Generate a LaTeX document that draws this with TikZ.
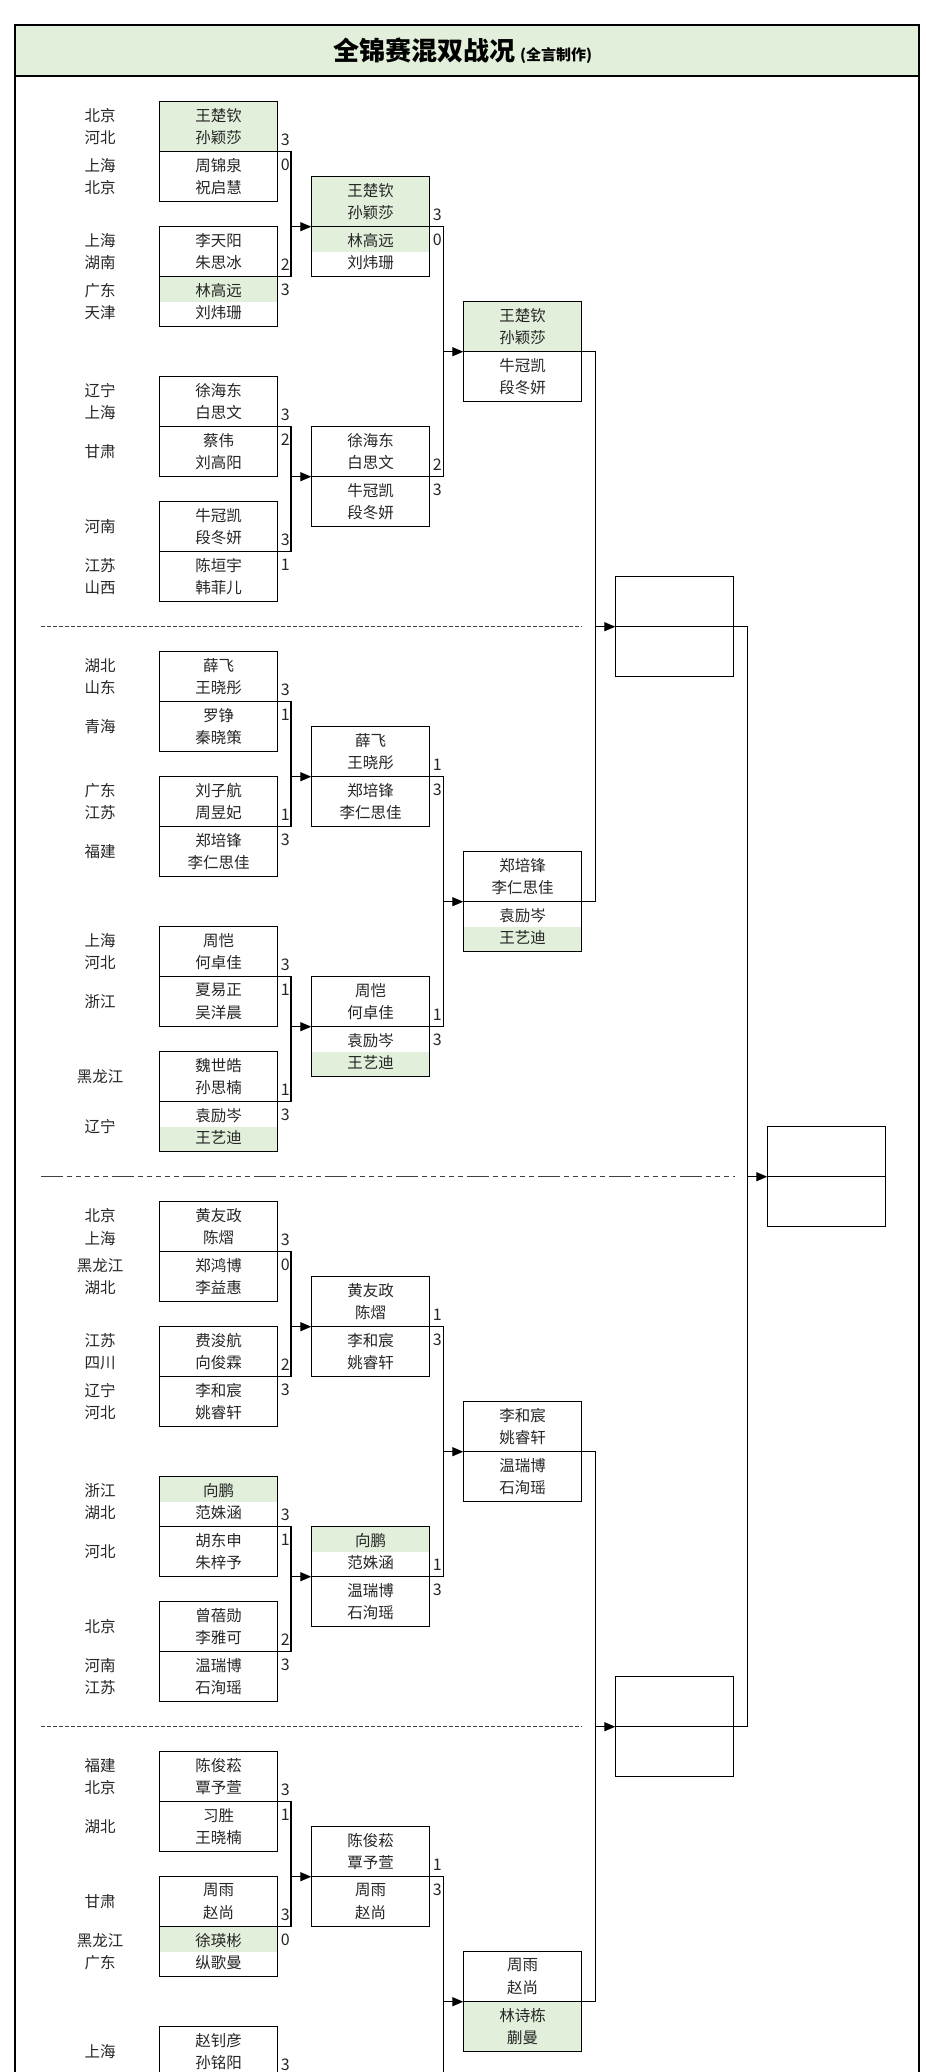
\documentclass[tikz,border=0pt]{standalone}
\usepackage{fontspec}
\setmainfont{Noto Sans CJK SC}
\usetikzlibrary{arrows.meta}
\definecolor{hl}{RGB}{226,239,218}
\definecolor{txt}{RGB}{38,38,38}
\tikzset{
  cell/.style={draw=black, line width=1.2pt, minimum width=118.4pt, minimum height=50pt,
    inner sep=0pt, outer sep=0pt, align=center, text=txt, font=\fontsize{15.5}{22.6}\selectfont},
  hlfull/.style={fill=hl},
  hlup/.style={path picture={\fill[hl] (path picture bounding box.north west) rectangle (path picture bounding box.east);}},
  hldown/.style={path picture={\fill[hl] (path picture bounding box.west) rectangle (path picture bounding box.south east);}},
  provst/.style={align=center, text=txt, inner sep=0pt, font=\fontsize{15.5}{22.6}\selectfont},
  scorest/.style={text=txt, inner sep=0pt, font=\fontsize{16}{18}\selectfont},
  conn/.style={draw=black, line width=1.2pt},
  arr/.style={conn, -{Triangle[length=11pt,width=9pt]}},
  frame/.style={draw=black, line width=2.5pt},
  sepdash/.style={draw=black!75, line width=0.9pt, dash pattern=on 4pt off 2pt},
  sepdashdot/.style={draw=black!75, line width=0.9pt, dash pattern=on 22pt off 4pt on 5pt off 4pt on 5pt off 4pt on 5pt off 4pt on 5pt off 4pt on 5pt off 4pt},
}
\newcommand\pairbox[7]{%
  \node[cell,#6,anchor=north west] (#1t) at (#2,#3) {#4};
  \node[cell,#7,anchor=north west] (#1b) at (#2,#3+50) {#5};}
\newcommand\scores[3]{%
  \node[scorest] (s#1a) at ([xshift=7.5pt,yshift=12pt]#1b.north east) {#2};
  \node[scorest] (s#1b) at ([xshift=7.5pt,yshift=-13pt]#1b.north east) {#3};}
\newcommand\prov[2]{\node[provst] (p#1) at (#1.center -| px) {#2};}
\newcommand\bracket[4]{%
  \draw[conn] (#1.north east) -- (#1.north east -| #3) -- (#2.north east -| #3) -- (#2.north east);
  \draw[arr] (#4.north west -| #3) -- (#4.north west);}
\begin{document}
\begin{tikzpicture}[x=1pt,y=-1pt]
\useasboundingbox (0,0) rectangle (926,2072);
\clip (0,0) rectangle (926,2072);
\fill[white] (0,0) rectangle (926,2072);
\coordinate (px) at (100,0);
\coordinate (k1) at (291,0);
\coordinate (k2) at (443.3,0);
\coordinate (k3) at (595.7,0);
\coordinate (k4) at (747.3,0);
\coordinate (q4end) at (0,2100);
% frame and title
\fill[hl] (15,25) rectangle (919,76);
\draw[frame] (15,2100) -- (15,25) -- (919,25) -- (919,2100);
\draw[frame] (15,76) -- (919,76);
\node (title) at (463,51) {\fontsize{26}{30}\selectfont\bfseries 全锦赛混双战况\,{\fontsize{15}{18}\selectfont (全言制作)}};
% separators
\draw[sepdash] (41,626.7) -- (582,626.7);
\draw[sepdashdot] (41,1176.7) -- (735,1176.7);
\draw[sepdash] (41,1726.7) -- (582,1726.7);
% ---------- quarter 1
\pairbox{A1}{159.3}{101.7}{王楚钦\\孙颖莎}{周锦泉\\祝启慧}{hlfull}{}
\pairbox{A2}{159.3}{226.7}{李天阳\\朱思冰}{林高远\\刘炜珊}{}{hlup}
\pairbox{A3}{159.3}{376.7}{徐海东\\白思文}{蔡伟\\刘高阳}{}{}
\pairbox{A4}{159.3}{501.7}{牛冠凯\\段冬妍}{陈垣宇\\韩菲儿}{}{}
\pairbox{B1}{311.3}{176.7}{王楚钦\\孙颖莎}{林高远\\刘炜珊}{hlfull}{hlup}
\pairbox{B2}{311.3}{426.7}{徐海东\\白思文}{牛冠凯\\段冬妍}{}{}
\pairbox{C1}{463.3}{301.7}{王楚钦\\孙颖莎}{牛冠凯\\段冬妍}{hlfull}{}
% ---------- quarter 2
\pairbox{A5}{159.3}{651.7}{薛飞\\王晓彤}{罗铮\\秦晓策}{}{}
\pairbox{A6}{159.3}{776.7}{刘子航\\周昱妃}{郑培锋\\李仁思佳}{}{}
\pairbox{A7}{159.3}{926.7}{周恺\\何卓佳}{夏易正\\吴洋晨}{}{}
\pairbox{A8}{159.3}{1051.7}{魏世皓\\孙思楠}{袁励岑\\王艺迪}{}{hldown}
\pairbox{B3}{311.3}{726.7}{薛飞\\王晓彤}{郑培锋\\李仁思佳}{}{}
\pairbox{B4}{311.3}{976.7}{周恺\\何卓佳}{袁励岑\\王艺迪}{}{hldown}
\pairbox{C2}{463.3}{851.7}{郑培锋\\李仁思佳}{袁励岑\\王艺迪}{}{hldown}
% ---------- quarter 3
\pairbox{A9}{159.3}{1201.7}{黄友政\\陈熠}{郑鸿博\\李益惠}{}{}
\pairbox{A10}{159.3}{1326.7}{费浚航\\向俊霖}{李和宸\\姚睿轩}{}{}
\pairbox{A11}{159.3}{1476.7}{向鹏\\范姝涵}{胡东申\\朱梓予}{hlup}{}
\pairbox{A12}{159.3}{1601.7}{曾蓓勋\\李雅可}{温瑞博\\石洵瑶}{}{}
\pairbox{B5}{311.3}{1276.7}{黄友政\\陈熠}{李和宸\\姚睿轩}{}{}
\pairbox{B6}{311.3}{1526.7}{向鹏\\范姝涵}{温瑞博\\石洵瑶}{hlup}{}
\pairbox{C3}{463.3}{1401.7}{李和宸\\姚睿轩}{温瑞博\\石洵瑶}{}{}
% ---------- quarter 4
\pairbox{A13}{159.3}{1751.7}{陈俊菘\\覃予萱}{习胜\\王晓楠}{}{}
\pairbox{A14}{159.3}{1876.7}{周雨\\赵尚}{徐瑛彬\\纵歌曼}{}{hlup}
\node[cell,anchor=north west] (A15t) at (159.3,2026.7) {赵钊彦\\孙铭阳};
\pairbox{B7}{311.3}{1826.7}{陈俊菘\\覃予萱}{周雨\\赵尚}{}{}
\pairbox{C4}{463.3}{1951.7}{周雨\\赵尚}{林诗栋\\蒯曼}{}{hlfull}
% ---------- later rounds (empty)
\pairbox{D1}{615.3}{576.7}{}{}{}{}
\pairbox{D2}{615.3}{1676.7}{}{}{}{}
\pairbox{E}{767.3}{1126.7}{}{}{}{}
% ---------- scores
\scores{A1}{3}{0}\scores{A2}{2}{3}\scores{A3}{3}{2}\scores{A4}{3}{1}
\scores{B1}{3}{0}\scores{B2}{2}{3}
\scores{A5}{3}{1}\scores{A6}{1}{3}\scores{A7}{3}{1}\scores{A8}{1}{3}
\scores{B3}{1}{3}\scores{B4}{1}{3}
\scores{A9}{3}{0}\scores{A10}{2}{3}\scores{A11}{3}{1}\scores{A12}{2}{3}
\scores{B5}{1}{3}\scores{B6}{1}{3}
\scores{A13}{3}{1}\scores{A14}{3}{0}
\scores{B7}{1}{3}
\node[scorest] (sA15a) at ([xshift=7.5pt,yshift=12pt]A15t.south east) {3};
% ---------- provinces
\prov{A1t}{北京\\河北}\prov{A1b}{上海\\北京}\prov{A2t}{上海\\湖南}\prov{A2b}{广东\\天津}
\prov{A3t}{辽宁\\上海}\prov{A3b}{甘肃}\prov{A4t}{河南}\prov{A4b}{江苏\\山西}
\prov{A5t}{湖北\\山东}\prov{A5b}{青海}\prov{A6t}{广东\\江苏}\prov{A6b}{福建}
\prov{A7t}{上海\\河北}\prov{A7b}{浙江}\prov{A8t}{黑龙江}\prov{A8b}{辽宁}
\prov{A9t}{北京\\上海}\prov{A9b}{黑龙江\\湖北}\prov{A10t}{江苏\\四川}\prov{A10b}{辽宁\\河北}
\prov{A11t}{浙江\\湖北}\prov{A11b}{河北}\prov{A12t}{北京}\prov{A12b}{河南\\江苏}
\prov{A13t}{福建\\北京}\prov{A13b}{湖北}\prov{A14t}{甘肃}\prov{A14b}{黑龙江\\广东}
\prov{A15t}{上海}
% ---------- connectors
\bracket{A1b}{A2b}{k1}{B1b}
\bracket{A3b}{A4b}{k1}{B2b}
\bracket{B1b}{B2b}{k2}{C1b}
\bracket{A5b}{A6b}{k1}{B3b}
\bracket{A7b}{A8b}{k1}{B4b}
\bracket{B3b}{B4b}{k2}{C2b}
\bracket{A9b}{A10b}{k1}{B5b}
\bracket{A11b}{A12b}{k1}{B6b}
\bracket{B5b}{B6b}{k2}{C3b}
\bracket{A13b}{A14b}{k1}{B7b}
\draw[conn] (B7b.north east) -- (B7b.north east -| k2) -- (k2 |- q4end);
\draw[arr] (C4b.north west -| k2) -- (C4b.north west);
\bracket{C1b}{C2b}{k3}{D1b}
\bracket{C3b}{C4b}{k3}{D2b}
\bracket{D1b}{D2b}{k4}{Eb}
\end{tikzpicture}
\end{document}
